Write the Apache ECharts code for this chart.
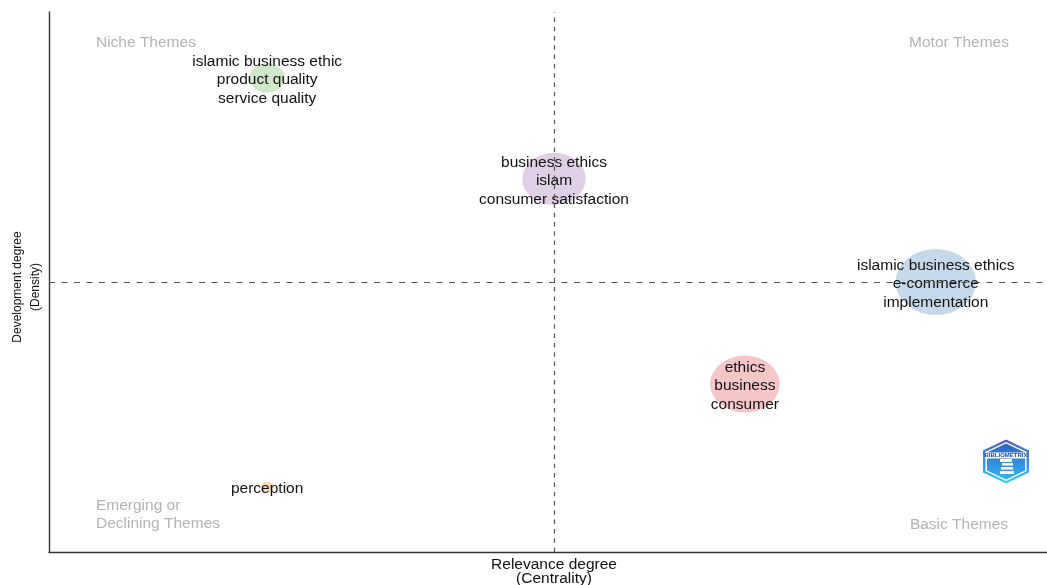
<!DOCTYPE html>
<html><head><meta charset="utf-8">
<style>html,body{margin:0;padding:0;background:#fff}#c{width:1047px;height:585px}</style>
<script src="https://cdn.jsdelivr.net/npm/echarts@6/dist/echarts.min.js"></script>
</head><body><div id="c"></div>
<script>
const themeLabels = [
  'islamic business ethic\nproduct quality\nservice quality',
  'business ethics\nislam\nconsumer satisfaction',
  'islamic business ethics\ne-commerce\nimplementation',
  'ethics\nbusiness\nconsumer',
  'perception'
];
const centrality = [21.6, 50, 87.8, 68.9, 21.6];
const density = [87.8, 69.1, 50, 31.1, 12];
const clusterSize = [29, 52, 66, 57, 11];
const clusterColors = ['#cfe8c8', '#e0d0e6', '#c6d9ea', '#f5c6c8', '#fbd9b5'];
const quadrantLabels = ['Niche Themes', 'Motor Themes', 'Emerging or\nDeclining Themes', 'Basic Themes'];
const quadrantX = [4.65, 90.1, 4.65, 90.1];
const quadrantY = [94.4, 94.4, 6.9, 5.1];
const quadrantAlign = ['left', 'center', 'left', 'center'];
const xTitle = 'Relevance degree\n(Centrality)';
const yTitle = 'Development degree\n(Density)';
const FONT = '"Liberation Sans", Arial, sans-serif';

function hex(cx, cy, rx, ry) {
  return [[cx, cy - ry], [cx + rx, cy - ry / 2], [cx + rx, cy + ry / 2], [cx, cy + ry], [cx - rx, cy + ry / 2], [cx - rx, cy - ry / 2]];
}
const chart = echarts.init(document.getElementById('c'), null, { renderer: 'canvas' });
chart.setOption({
  animation: false,
  backgroundColor: '#fff',
  grid: { left: 49, right: -12, top: 12, bottom: 33, outerBoundsMode: 'none' },
  xAxis: {
    type: 'value', min: 0, max: 100, name: xTitle, nameLocation: 'middle', nameGap: 6,
    nameTextStyle: { color: '#111', fontSize: 15.5, fontFamily: FONT, lineHeight: 14, verticalAlign: 'top' },
    axisLine: { show: true, onZero: false, lineStyle: { color: '#333', width: 1.4 } },
    axisTick: { show: false }, axisLabel: { show: false }, splitLine: { show: false }
  },
  yAxis: {
    type: 'value', min: 0, max: 100, name: yTitle, nameLocation: 'middle', nameGap: 4,
    nameTextStyle: { color: '#111', fontSize: 12, fontFamily: FONT, lineHeight: 18, padding: [0, 10, 0, 0] },
    axisLine: { show: true, onZero: false, lineStyle: { color: '#333', width: 1.4 } },
    axisTick: { show: false }, axisLabel: { show: false }, splitLine: { show: false }
  },
  series: [
    {
      type: 'scatter', z: 2,
      data: centrality.map((x, i) => ({
        value: [x, density[i], clusterSize[i]],
        name: themeLabels[i],
        itemStyle: { color: clusterColors[i], opacity: 1 }
      })),
      symbol: 'circle',
      symbolSize: v => [v[2] * 1.22, v[2]],
      label: {
        show: true, position: 'inside', formatter: p => p.name, color: '#111',
        fontSize: 15.5, fontFamily: FONT, lineHeight: 18.5, align: 'center', verticalAlign: 'middle'
      },
      labelLayout: { hideOverlap: false, dy: 2 },
      markLine: {
        silent: true, symbol: 'none', z: 3, animation: false, label: { show: false },
        lineStyle: { color: '#555', width: 1.2 },
        data: [
          { xAxis: 50, lineStyle: { type: [4.5, 4.8] } },
          { yAxis: 50, lineStyle: { type: [6, 6.5] } }
        ]
      }
    },
    {
      type: 'scatter', z: 4, symbolSize: 1, itemStyle: { color: 'transparent' },
      data: quadrantLabels.map((t, i) => ({
        value: [quadrantX[i], quadrantY[i]], name: t,
        label: { align: quadrantAlign[i] }
      })),
      label: {
        show: true, position: 'inside', formatter: p => p.name, color: '#a0a0a0',
        fontSize: 15.5, fontFamily: FONT, lineHeight: 18.5, verticalAlign: 'middle'
      }
    }
  ],
  graphic: [{
    type: 'group', silent: true, z: 10,
    children: [
      { type: 'polygon', shape: { points: hex(1006, 461.5, 23, 22) },
        style: { fill: new echarts.graphic.LinearGradient(0, 0, 0, 1, [{ offset: 0, color: '#4f62b8' }, { offset: 0.5, color: '#3a8fe0' }, { offset: 1, color: '#3cd0f0' }]) } },
      { type: 'polygon', shape: { points: hex(1006, 461.5, 20.5, 19.5) },
        style: { fill: '#fff' } },
      { type: 'polygon', shape: { points: hex(1006, 461.5, 19, 18) },
        style: { fill: new echarts.graphic.LinearGradient(0, 0, 0, 1, [{ offset: 0, color: '#2f62c0' }, { offset: 1, color: '#35b5ee' }]) } },
      { type: 'rect', shape: { x: 985, y: 452.5, width: 42, height: 6 }, style: { fill: '#fff' } },
      { type: 'text', style: { x: 1006, y: 455.5, text: 'BIBLIOMETRIX', align: 'center', verticalAlign: 'middle', font: 'bold 6px "Liberation Sans"', fill: '#24489a' } },
      { type: 'rect', shape: { x: 1000, y: 459, width: 12, height: 3 }, style: { fill: '#fff' } },
      { type: 'rect', shape: { x: 1002, y: 463, width: 11, height: 2.5 }, style: { fill: '#fff' } },
      { type: 'rect', shape: { x: 1001, y: 467, width: 12, height: 2.5 }, style: { fill: '#fff' } },
      { type: 'rect', shape: { x: 1000, y: 471, width: 14, height: 3 }, style: { fill: '#fff' } }
    ]
  }]
});
</script></body></html>
